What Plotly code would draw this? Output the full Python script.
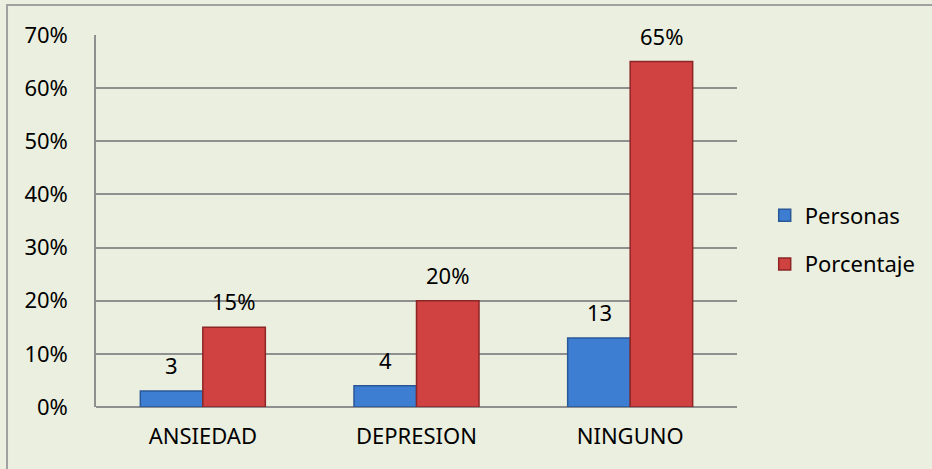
import plotly.graph_objects as go

categories = ["ANSIEDAD", "DEPRESION", "NINGUNO"]
personas = [3, 4, 13]
porcentaje = [15, 20, 65]
tick_vals = [0, 10, 20, 30, 40, 50, 60, 70]
tick_text = ["0%", "10%", "20%", "30%", "40%", "50%", "60%", "70%"]

FONT = "Noto Sans"
BG = "#EBEFDF"
GRID = "#8F8F8F"
FS = 22

fig = go.Figure()
fig.add_trace(go.Bar(
    name="Personas", x=categories, y=personas,
    marker=dict(color="#3E7ED2", line=dict(color="#2A5896", width=1.5)),
    legendgroup="a",
))
fig.add_trace(go.Bar(
    name="Porcentaje", x=categories, y=porcentaje,
    marker=dict(color="#D04141", line=dict(color="#8C2626", width=1.5)),
    legendgroup="b",
))

annotations = []
for cat, v in zip(categories, personas):
    annotations.append(dict(x=cat, y=v, text=f"{v}", showarrow=False,
                            xshift=-31, yshift=26, yanchor="middle",
                            font=dict(family=FONT, size=FS, color="#000000")))
for cat, v in zip(categories, porcentaje):
    annotations.append(dict(x=cat, y=v, text=f"{v}%", showarrow=False,
                            xshift=31, yshift=26, yanchor="middle",
                            font=dict(family=FONT, size=FS, color="#000000")))

fig.update_layout(
    width=932, height=469,
    margin=dict(l=96, r=195, t=35, b=62),
    paper_bgcolor=BG, plot_bgcolor=BG,
    barmode="group", bargap=0.415, bargroupgap=0,
    font=dict(family=FONT, size=FS, color="#000000"),
    annotations=annotations,
    legend=dict(
        xref="container", yref="container",
        x=0.8205, y=1 - 240 / 469, xanchor="left", yanchor="middle",
        font=dict(family=FONT, size=FS, color="#000000"),
        bgcolor="rgba(0,0,0,0)", tracegroupgap=17,
        itemwidth=30, traceorder="grouped",
    ),
    xaxis=dict(
        showline=False, showgrid=False, ticks="",
        tickfont=dict(family=FONT, size=FS, color="#000000"),
        ticklabelstandoff=14,
    ),
    yaxis=dict(
        range=[0, 70], tickvals=tick_vals, ticktext=tick_text,
        showgrid=True, gridcolor=GRID, gridwidth=1.5,
        showline=True, linecolor=GRID, linewidth=1.5,
        zeroline=True, zerolinecolor=GRID, zerolinewidth=1.5,
        ticks="", ticklabelstandoff=22,
        tickfont=dict(family=FONT, size=FS, color="#000000"),
    ),
    shapes=[dict(
        type="rect", xref="paper", yref="paper",
        x0=-0.1388, x1=1.6, y0=-0.6, y1=1.0806,
        line=dict(color="#A0A0A0", width=2), fillcolor="rgba(0,0,0,0)",
        layer="above",
    )],
)

fig.write_html("out.html")
